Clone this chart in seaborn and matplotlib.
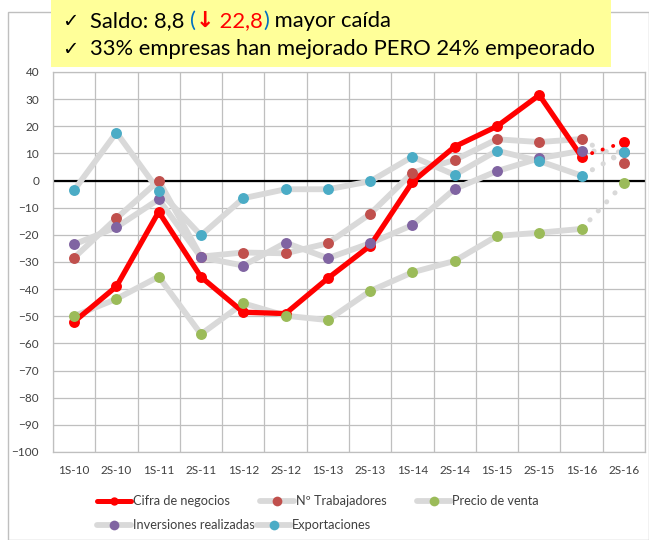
import matplotlib
matplotlib.use("Agg")
import matplotlib.pyplot as plt
import seaborn as sns
import pandas as pd
from matplotlib.lines import Line2D
from matplotlib.patches import Rectangle

cats = ["1S-10", "2S-10", "1S-11", "2S-11", "1S-12", "2S-12", "1S-13",
        "2S-13", "1S-14", "2S-14", "1S-15", "2S-15", "1S-16", "2S-16"]
cifra = [-52, -39, -11.5, -35.5, -48.5, -49, -36, -24, -0.5, 12.5, 20, 31.5, 8.8, 14.1]
trabajadores = [-28.4, -13.9, 0, -28, -26.5, -26.8, -23.1, -12.3, 2.9, 7.6, 15.2, 14.2, 15.3, 6.4]
precio = [-49.9, -43.6, -35.4, -56.6, -45.2, -49.8, -51.4, -40.7, -33.8, -29.6, -20.4, -19.2, -17.8, -1.0]
inversiones = [-23.5, -17.2, -6.9, -28.3, -31.3, -22.9, -28.6, -23.1, -16.4, -3.1, 3.5, 8.2, 11.0, 10.5]
exportaciones = [-3.5, 17.7, -3.7, -20.2, -6.5, -3.2, -3.2, -0.3, 8.8, 2.1, 11.0, 7.2, 1.8, 10.4]

nombres = ["Cifra de negocios", "Nº Trabajadores", "Precio de venta",
           "Inversiones realizadas", "Exportaciones"]
colores = ["#FF0000", "#C0504D", "#9BBB59", "#8064A2", "#4BACC6"]
gris = "#D9D9D9"

sns.set_style("white")
plt.rcParams['font.family'] = ['Lato', 'DejaVu Sans']

W, H = 649, 540
fig = plt.figure(figsize=(W / 100, H / 100), dpi=100)
ax = fig.add_axes([53 / W, 1 - 452 / H, (645 - 53) / W, (452 - 72) / H])

df = pd.DataFrame({"periodo": cats, nombres[0]: cifra, nombres[1]: trabajadores,
                   nombres[2]: precio, nombres[3]: inversiones, nombres[4]: exportaciones})
solid = df.iloc[:13]
tail = df.iloc[12:]

# lineas grises de las otras series
for nom in nombres[1:]:
    sns.lineplot(data=solid, x="periodo", y=nom, sort=False, color=gris, lw=4.2,
                 solid_capstyle="round", solid_joinstyle="round", ax=ax, zorder=2)
    sns.lineplot(data=tail, x="periodo", y=nom, sort=False, color=gris, lw=3.6,
                 linestyle=(0, (0.05, 2.4)), dash_capstyle="round", ax=ax, zorder=2)

# cifra de negocios en rojo
sns.lineplot(data=solid, x="periodo", y=nombres[0], sort=False, color=colores[0], lw=3.8,
             solid_capstyle="round", solid_joinstyle="round", ax=ax, zorder=3)
sns.lineplot(data=tail, x="periodo", y=nombres[0], sort=False, color=colores[0], lw=2.8,
             linestyle=(0, (0.05, 2.8)), dash_capstyle="round", ax=ax, zorder=3)

for nom, col in zip(nombres, colores):
    sns.scatterplot(data=df, x="periodo", y=nom, color=col, s=62, linewidth=0,
                    ax=ax, zorder=4)

ax.axhline(0, color="black", lw=1.6, zorder=1.8)

ax.set_xlim(-0.5, 13.5)
ax.set_ylim(-100, 40)
ax.set_yticks(range(-100, 41, 10))
ax.set_xticks(range(14))
ax.set_xticklabels(cats)
ax.set_xticks([i - 0.5 for i in range(15)], minor=True)
ax.grid(False)
ax.grid(True, which="minor", axis="x", color="#BFBFBF", lw=0.9)
ax.grid(True, which="major", axis="y", color="#BFBFBF", lw=0.9)
ax.set_axisbelow(True)
ax.tick_params(axis="both", which="both", length=0)
ax.tick_params(axis="y", pad=10, labelsize=8.5, colors="#404040")
ax.tick_params(axis="x", pad=9, labelsize=8.5, colors="#404040")
for sp in ax.spines.values():
    sp.set_color("#BFBFBF")
    sp.set_linewidth(0.9)
ax.set_xlabel("")
ax.set_ylabel("")

# leyenda en dos filas
def handle(i):
    if i == 0:
        return Line2D([], [], color=colores[0], lw=3.6, marker="o", markersize=6,
                      markerfacecolor=colores[0], markeredgewidth=0)
    return Line2D([], [], color=gris, lw=4.2, marker="o", markersize=7,
                  markerfacecolor=colores[i], markeredgewidth=0)

leg_kw = dict(frameon=False, fontsize=9.2, handlelength=2.66, handletextpad=0.12,
              loc="center left", borderaxespad=0, borderpad=0)
leg1 = fig.legend([handle(i) for i in range(3)], nombres[:3], ncol=3, columnspacing=2.4,
                  bbox_to_anchor=(97 / W, 1 - 501 / H), **leg_kw)
leg2 = fig.legend([handle(i) for i in range(3, 5)], nombres[3:], ncol=2, columnspacing=0.2,
                  bbox_to_anchor=(97 / W, 1 - 525 / H), **leg_kw)
for lg in (leg1, leg2):
    for t in lg.get_texts():
        t.set_color("#404040")

# marco del grafico y recuadro amarillo
fig.patches.append(Rectangle((8 / W, 0), 1 - 8 / W, 1 - 12 / H, transform=fig.transFigure,
                             facecolor="none", edgecolor="#BFBFBF", lw=1, zorder=0))
fig.patches.append(Rectangle((51 / W, 1 - 67 / H), (611 - 51) / W, 67 / H,
                             transform=fig.transFigure, facecolor="#FFFF99",
                             edgecolor="none", zorder=5))

fam = ['Lato', 'DejaVu Sans']
renderer = fig.canvas.get_renderer()


def ancho(s, size, weight, family):
    a = fig.text(0, 0, s + "|", fontsize=size, fontweight=weight, family=family)
    b = fig.text(0, 0, "|", fontsize=size, fontweight=weight, family=family)
    w = a.get_window_extent(renderer).width - b.get_window_extent(renderer).width
    a.remove()
    b.remove()
    return w


def linea(partes, x_px, y_px, size):
    fig.text(62 / W, 1 - y_px / H, "✓", color="black", fontsize=14,
             family=['DejaVu Sans'], va="baseline", ha="left", zorder=6)
    x = x_px
    for s, col, weight, family in partes:
        fig.text(x / W, 1 - y_px / H, s, color=col, fontsize=size, fontweight=weight,
                 family=family, va="baseline", ha="left", zorder=6)
        x += ancho(s, size, weight, family)


linea([("Saldo: 8,8 ", "black", "normal", fam),
       ("(", "#0070C0", "normal", fam),
       ("↓", "#FF0000", "bold", ['DejaVu Sans']),
       (" 22,8", "#FF0000", "normal", fam),
       (")", "#0070C0", "normal", fam),
       (" mayor caída", "black", "normal", fam)], 90, 27, 15.8)
linea([("33% empresas han mejorado PERO 24% empeorado", "black", "normal", fam)], 90, 55, 15.8)

fig.savefig("out.png", dpi=100)
